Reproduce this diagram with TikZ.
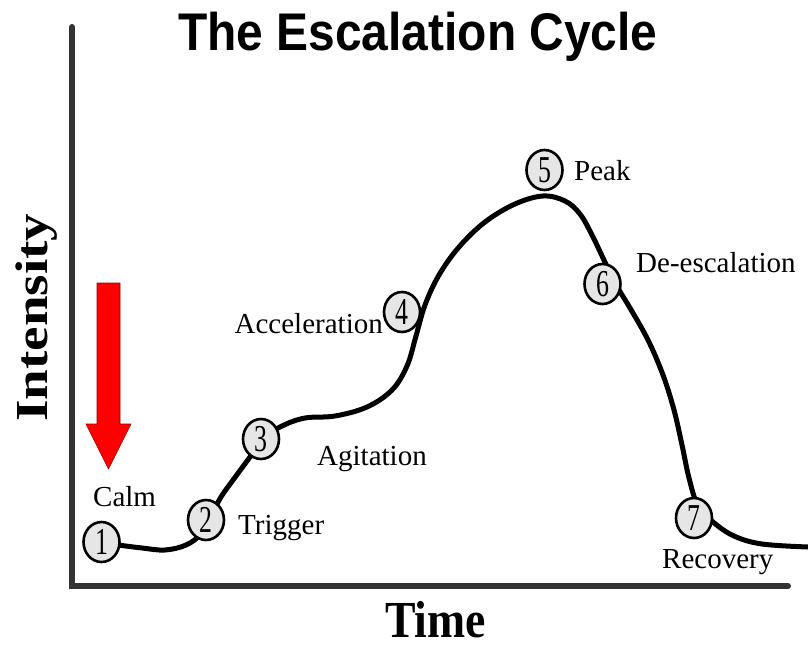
\documentclass[tikz,border=0pt]{standalone}
\usepackage{fontspec}
\setmainfont{Liberation Serif}
\newfontfamily\titlefont{Liberation Sans}
\usetikzlibrary{shapes.geometric}
\definecolor{axisgray}{HTML}{333333}
\definecolor{stagefill}{HTML}{E6E6E6}
\definecolor{arrowred}{HTML}{FF0000}
\definecolor{arrowedge}{HTML}{990000}
\tikzset{
  axisline/.style={draw=axisgray, line width=6pt, line cap=round},
  curveline/.style={draw=black, line width=5pt, line join=round, line cap=round},
  stage/.style={ellipse, draw=black, line width=2.6pt, fill=stagefill,
    minimum width=36pt, minimum height=40pt, inner sep=0pt,
    font=\fontsize{38}{38}\selectfont},
  lbl/.style={anchor=base west, inner sep=0pt, font=\fontsize{29}{29}\selectfont},
}
\newcommand{\stagenum}[1]{\scalebox{0.68}[1]{#1}}
\begin{document}
\begin{tikzpicture}[x=1pt,y=-1pt]
\useasboundingbox (0,0) rectangle (808,647);
% title
\node[anchor=base west, inner sep=0pt, font=\titlefont\bfseries\fontsize{53}{53}\selectfont] (title) at (178,51) {\scalebox{0.904}[1]{The Escalation Cycle}};
% axes
\coordinate (ytop) at (72,27);
\coordinate (origin) at (72,586);
\coordinate (xend) at (788,586);
\draw[axisline] (ytop) -- (origin) -- (xend);
% axis labels
\node[anchor=base west, inner sep=0pt, rotate=90, font=\bfseries\fontsize{52}{52}\selectfont] (ylab) at (47,422) {\scalebox{1.06}[0.88]{Intensity}};
\node[anchor=base west, inner sep=0pt, font=\bfseries\fontsize{52}{52}\selectfont] (xlab) at (385,637) {\scalebox{0.88}[1]{Time}};
% red arrow
\draw[fill=arrowred, draw=arrowedge, line width=0.6pt]
  (97,283) -- (120,283) -- (120,424) -- (131,424) -- (108.5,469) -- (86,424) -- (97,424) -- cycle;
% curve
\draw[curveline] plot[smooth, tension=0.6] coordinates {
  (118,545) (142,548) (165,550) (186,545) (201,534) (210,518)
  (221,497) (236,476) (250,457) (264,438)
  (282,426) (305,418) (335,416) (367,407) (392,390) (407,366) (416,336)
  (425,305) (439,275) (459,247) (485,222) (515,204) (543,196) (565,201)
  (580,214) (592,235) (603,258) (615,283) (630,308) (648,340) (663,375)
  (674,410) (682,445) (689,478) (698,506) (713,522) (734,536)
  (762,544) (808,547)};
% stages
\node[stage] (s1) at (101.5,542) {\stagenum{1}};
\node[stage] (s2) at (206,520) {\stagenum{2}};
\node[stage] (s3) at (261,439) {\stagenum{3}};
\node[stage] (s4) at (402,312) {\stagenum{4}};
\node[stage] (s5) at (544.5,170) {\stagenum{5}};
\node[stage] (s6) at (602.5,284) {\stagenum{6}};
\node[stage] (s7) at (694,518) {\stagenum{7}};
% labels
\node[lbl] (calm) at (93,506) {Calm};
\node[lbl] (trigger) at (238,534) {Trigger};
\node[lbl] (agitation) at (317,465) {Agitation};
\node[lbl, anchor=base east] (accel) at (383,333) {Acceleration};
\node[lbl] (peak) at (574,181) {Peak};
\node[lbl] (deesc) at (636,272) {De-escalation};
\node[lbl] (recovery) at (662,568) {Recovery};
\end{tikzpicture}
\end{document}
